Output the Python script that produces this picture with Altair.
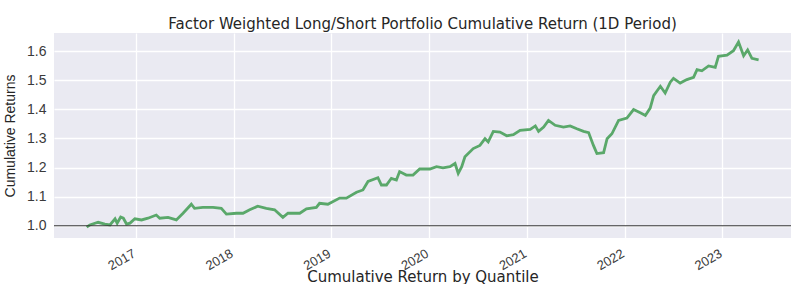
import altair as alt
import pandas as pd

title_text = "Factor Weighted Long/Short Portfolio Cumulative Return (1D Period)"
x_title = "Cumulative Return by Quantile"
y_title = "Cumulative Returns"

dates = [
    "2016-07-01", "2016-07-13", "2016-08-13", "2016-09-07", "2016-09-26", "2016-10-15",
    "2016-10-23", "2016-11-05", "2016-11-15", "2016-11-27", "2016-12-10", "2016-12-28",
    "2017-01-22", "2017-02-15", "2017-03-18", "2017-03-31", "2017-05-01", "2017-06-01",
    "2017-06-26", "2017-07-27", "2017-08-08", "2017-09-08", "2017-10-16", "2017-11-16",
    "2017-12-05", "2018-01-11", "2018-02-05", "2018-03-02", "2018-04-01", "2018-05-03",
    "2018-06-03", "2018-07-04", "2018-07-23", "2018-09-05", "2018-09-30", "2018-11-06",
    "2018-11-18", "2018-12-19", "2019-02-01", "2019-02-26", "2019-04-05", "2019-04-29",
    "2019-05-18", "2019-06-24", "2019-07-07", "2019-07-26", "2019-08-13", "2019-09-01",
    "2019-09-13", "2019-10-08", "2019-11-02", "2019-11-27", "2020-01-04", "2020-01-29",
    "2020-02-22", "2020-03-19", "2020-04-07", "2020-04-19", "2020-05-02", "2020-05-14",
    "2020-06-14", "2020-07-09", "2020-07-28", "2020-08-09", "2020-08-28", "2020-09-22",
    "2020-10-17", "2020-11-11", "2020-12-06", "2021-01-13", "2021-02-01", "2021-02-13",
    "2021-03-04", "2021-03-22", "2021-04-16", "2021-05-17", "2021-06-11", "2021-07-06",
    "2021-07-31", "2021-08-19", "2021-09-06", "2021-09-19", "2021-10-14", "2021-10-27",
    "2021-11-14", "2021-12-09", "2022-01-09", "2022-02-03", "2022-02-28", "2022-03-19",
    "2022-04-06", "2022-04-19", "2022-05-14", "2022-06-01", "2022-06-20", "2022-07-02",
    "2022-07-27", "2022-08-21", "2022-09-15", "2022-09-28", "2022-10-16", "2022-11-10",
    "2022-12-05", "2022-12-17", "2023-01-18", "2023-02-11", "2023-03-02", "2023-03-21",
    "2023-04-05", "2023-04-21", "2023-05-16",
]
returns = [
    0.995, 1.003, 1.012, 1.006, 1.003, 1.024,
    1.009, 1.030, 1.026, 1.006, 1.009, 1.024,
    1.020, 1.026, 1.037, 1.026, 1.029, 1.020,
    1.043, 1.074, 1.060, 1.063, 1.063, 1.060,
    1.040, 1.043, 1.043, 1.055, 1.067, 1.060,
    1.055, 1.029, 1.043, 1.043, 1.058, 1.063,
    1.077, 1.074, 1.095, 1.095, 1.115, 1.123,
    1.152, 1.165, 1.140, 1.140, 1.163, 1.157,
    1.186, 1.174, 1.174, 1.195, 1.195, 1.203,
    1.199, 1.203, 1.214, 1.180, 1.203, 1.237,
    1.265, 1.276, 1.299, 1.288, 1.324, 1.322,
    1.309, 1.313, 1.328, 1.331, 1.343, 1.324,
    1.339, 1.362, 1.345, 1.339, 1.343, 1.333,
    1.324, 1.320, 1.276, 1.248, 1.251, 1.299,
    1.316, 1.362, 1.370, 1.399, 1.388, 1.379,
    1.404, 1.447, 1.479, 1.456, 1.493, 1.506,
    1.490, 1.502, 1.510, 1.536, 1.532, 1.549,
    1.544, 1.582, 1.586, 1.601, 1.631, 1.584,
    1.604, 1.575, 1.570,
]
baseline = [1.0]
year_ticks = [2017, 2018, 2019, 2020, 2021, 2022, 2023]
y_ticks = [1.0, 1.1, 1.2, 1.3, 1.4, 1.5, 1.6]

df = pd.DataFrame({"date": dates, "ret": returns})
base_df = pd.DataFrame({"ret": baseline})

FONT = "Liberation Sans"
WIDE = "DejaVu Sans"

x_enc = alt.X(
    "date:T",
    scale=alt.Scale(domain=[alt.DateTime(year=2016, month=3, date=1),
                            alt.DateTime(year=2023, month=9, date=14)]),
    axis=alt.Axis(
        title=x_title,
        values=[alt.DateTime(year=y, month=1, date=1) for y in year_ticks],
        format="%Y",
        labelAngle=-30,
        labelAlign="right",
        labelBaseline="top",
        labelPadding=9,
        labelOffset=-5,
        labelFontSize=13,
        titleFont=WIDE,
        titleFontSize=15,
        titleY=43,
        titleBaseline="alphabetic",
    ),
)
y_enc = alt.Y(
    "ret:Q",
    scale=alt.Scale(domain=[0.958, 1.662], nice=False, zero=False),
    axis=alt.Axis(
        title=y_title,
        values=y_ticks,
        format=".1f",
        labelPadding=8,
        labelFontSize=14,
        labelOverlap=False,
        titleFont=FONT,
        titleFontSize=14,
        titleX=-44,
        titleBaseline="middle",
    ),
)

line = alt.Chart(df).mark_line(color="#5aa86a", strokeWidth=2.8).encode(x=x_enc, y=y_enc)
rule = alt.Chart(base_df).mark_rule(color="#333333", strokeWidth=1).encode(y=y_enc)

chart = (
    alt.layer(line, rule)
    .properties(
        width=737,
        height=205,
        background="white",
        autosize=alt.AutoSizeParams(type="none"),
        padding={"left": 54, "top": 33, "right": 7, "bottom": 46},
        title=alt.TitleParams(
            text=title_text, fontSize=15, font=WIDE, fontWeight="normal",
            color="#262626", offset=1, anchor="middle",
        ),
    )
    .configure_view(fill="#EAEAF2", stroke=None)
    .configure_axis(
        domain=False,
        ticks=False,
        grid=True,
        gridColor="white",
        gridWidth=1.3,
        labelFont=FONT,
        labelColor="#3a3a3a",
        titleFontWeight="normal",
        titleColor="#262626",
    )
)

chart.save("out.html", embed_options={"renderer": "svg", "actions": False})
